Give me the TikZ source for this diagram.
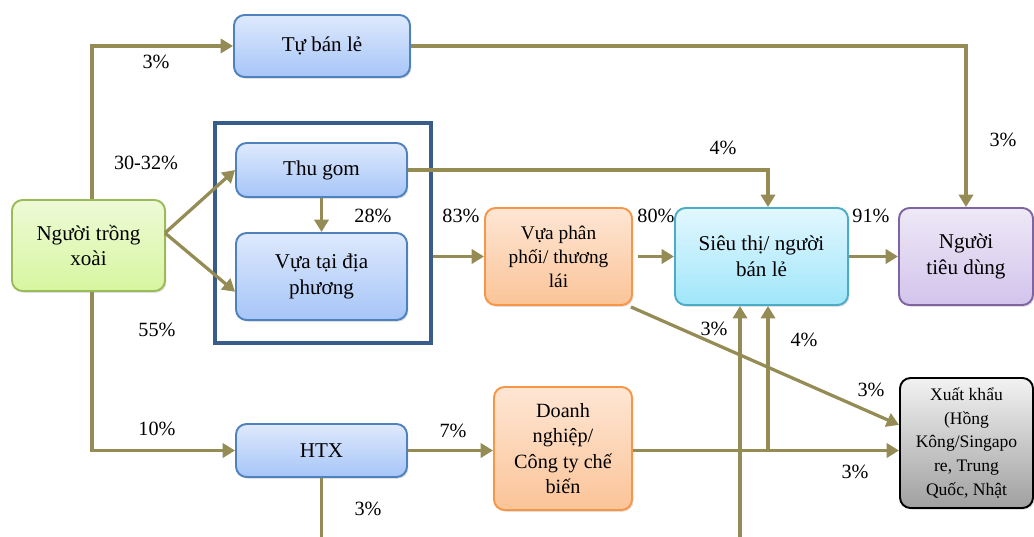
\documentclass[tikz,border=0pt]{standalone}
\usepackage{fontspec}
\setmainfont{Liberation Serif}
\usetikzlibrary{arrows.meta,calc,shadows}
\definecolor{arrc}{RGB}{148,140,84}
\definecolor{bluebd}{RGB}{79,129,189}
\definecolor{bluetop}{RGB}{222,233,252}
\definecolor{bluebot}{RGB}{166,197,248}
\definecolor{greenbd}{RGB}{155,187,89}
\definecolor{greentop}{RGB}{238,250,214}
\definecolor{greenbot}{RGB}{214,246,160}
\definecolor{orbd}{RGB}{247,150,70}
\definecolor{ortop}{RGB}{254,230,212}
\definecolor{orbot}{RGB}{251,196,152}
\definecolor{cybd}{RGB}{75,172,198}
\definecolor{cytop}{RGB}{226,247,254}
\definecolor{cybot}{RGB}{160,230,250}
\definecolor{pubd}{RGB}{128,100,162}
\definecolor{putop}{RGB}{238,232,246}
\definecolor{pubot}{RGB}{210,196,236}
\definecolor{grtop}{RGB}{242,242,242}
\definecolor{grbot}{RGB}{160,160,160}
\definecolor{framec}{RGB}{56,93,138}
\tikzset{
  box/.style={rounded corners=6pt, line width=1.1pt, align=center, inner sep=2pt,
    font=\rmfamily\fontsize{12}{14.5}\selectfont,
    drop shadow={opacity=0.25, shadow xshift=0.8pt, shadow yshift=-1pt}},
  bluebox/.style={box, draw=bluebd, top color=bluetop, bottom color=bluebot},
  greenbox/.style={box, draw=greenbd, top color=greentop, bottom color=greenbot},
  orbox/.style={box, draw=orbd, top color=ortop, bottom color=orbot},
  cybox/.style={box, draw=cybd, top color=cytop, bottom color=cybot},
  pubox/.style={box, draw=pubd, top color=putop, bottom color=pubot},
  grbox/.style={box, draw=black, top color=grtop, bottom color=grbot},
  arr/.style={draw=arrc, line width=1.85pt, -{Triangle[length=7pt,width=8pt]}},
  plain/.style={draw=arrc, line width=1.85pt},
  lbl/.style={font=\rmfamily\fontsize{11.5}{13}\selectfont, inner sep=0pt},
}
\begin{document}
\begin{tikzpicture}[x=0.02cm,y=-0.02cm]
\useasboundingbox (0,0) rectangle (1034,537);
% frame
\node[draw=framec, line width=1.8pt, minimum width=216*0.02cm, minimum height=220*0.02cm, inner sep=0pt] (frame) at (323,233) {};
% nodes
\node[greenbox, minimum width=153*0.02cm, minimum height=91*0.02cm] (farmer) at (88.5,245.5) {Người trồng\\xoài};
\node[bluebox, minimum width=176*0.02cm, minimum height=62*0.02cm] (tuban) at (322,46) {Tự bán lẻ};
\node[bluebox, minimum width=171*0.02cm, minimum height=54*0.02cm] (thugom) at (321.5,170) {Thu gom};
\node[bluebox, minimum width=171*0.02cm, minimum height=87*0.02cm] (vuatai) at (321.5,276.5) {Vựa tại địa\\phương};
\node[orbox, minimum width=147*0.02cm, minimum height=97*0.02cm, font=\rmfamily\fontsize{11}{13.6}\selectfont] (vuapp) at (558.5,256.5) {Vựa phân\\phối/ thương\\lái};
\node[cybox, minimum width=173*0.02cm, minimum height=97*0.02cm] (sieuthi) at (761.5,256.5) {Siêu thị/ người\\bán lẻ};
\node[pubox, minimum width=134*0.02cm, minimum height=97*0.02cm] (ntd) at (966,256.5) {Người\\tiêu dùng};
\node[bluebox, minimum width=171*0.02cm, minimum height=53*0.02cm] (htx) at (321.5,450.5) {HTX};
\node[orbox, minimum width=138*0.02cm, minimum height=123*0.02cm, font=\rmfamily\fontsize{11.5}{14.5}\selectfont] (dn) at (563,448.5) {Doanh\\nghiệp/\\Công ty chế\\biến};
\node[grbox, minimum width=133*0.02cm, minimum height=130*0.02cm, font=\rmfamily\fontsize{10}{13.6}\selectfont] (xk) at (966.5,443) {Xuất khẩu\\(Hồng\\Kông/Singapo\\re, Trung\\Quốc, Nhật};
% helper coordinates
\coordinate (fo) at (165,233);
\coordinate (fn) at ($(farmer.north)+(3.5,0)$);
\coordinate (fs) at ($(farmer.south)+(3.5,0)$);
\coordinate (htxend) at (321.5,537);
\coordinate (st1) at ($(sieuthi.south)+(-21.5,0)$);
\coordinate (st2) at ($(sieuthi.south)+(6.5,0)$);
\coordinate (stn) at ($(sieuthi.north)+(6.5,0)$);
\coordinate (bot) at (740,537);
% connectors
\draw[arr] (fn) |- (tuban.west);
\draw[arr] (tuban.east) -| (ntd.north);
\draw[arr] (fo) -- (thugom.west);
\draw[arr] (fo) -- (vuatai.190);
\draw[arr] (thugom.south) -- (vuatai.north);
\draw[arr] (thugom.east) -| (stn);
\draw[arr] (frame.east |- vuapp.west) -- (vuapp.west);
\draw[arr, shorten <=3pt] (vuapp.east) -- (sieuthi.west);
\draw[arr] (sieuthi.east) -- (sieuthi.east -| ntd.west);
\draw[arr] (fs) |- (htx.west);
\draw[arr] (htx.east) -- (htx.east -| dn.west);
\draw[plain] (htx.south) -- (htxend);
\draw[arr] (dn.east |- htx.east) -- (htx.east -| xk.west);
\draw[arr] (htx.east -| st2) -- (st2);
\draw[arr] (bot) -- (bot |- st1);
\draw[arr] ($(vuapp.south east)+(-2,1)$) -- (xk.165);
% labels
\node[lbl] (l1) at (156,62) {3\%};
\node[lbl] (l2) at (146,163) {30-32\%};
\node[lbl] (l3) at (373,216) {28\%};
\node[lbl] (l4) at (461,216) {83\%};
\node[lbl] (l5) at (723,148) {4\%};
\node[lbl] (l6) at (656,216) {80\%};
\node[lbl] (l7) at (871,216) {91\%};
\node[lbl] (l8) at (1003,140) {3\%};
\node[lbl] (l9) at (157,330) {55\%};
\node[lbl] (l10) at (157,429) {10\%};
\node[lbl] (l11) at (453,431) {7\%};
\node[lbl] (l12) at (368,509) {3\%};
\node[lbl] (l13) at (714,329) {3\%};
\node[lbl] (l14) at (804,340) {4\%};
\node[lbl] (l15) at (871,390) {3\%};
\node[lbl] (l16) at (855,472) {3\%};
\end{tikzpicture}
\end{document}
